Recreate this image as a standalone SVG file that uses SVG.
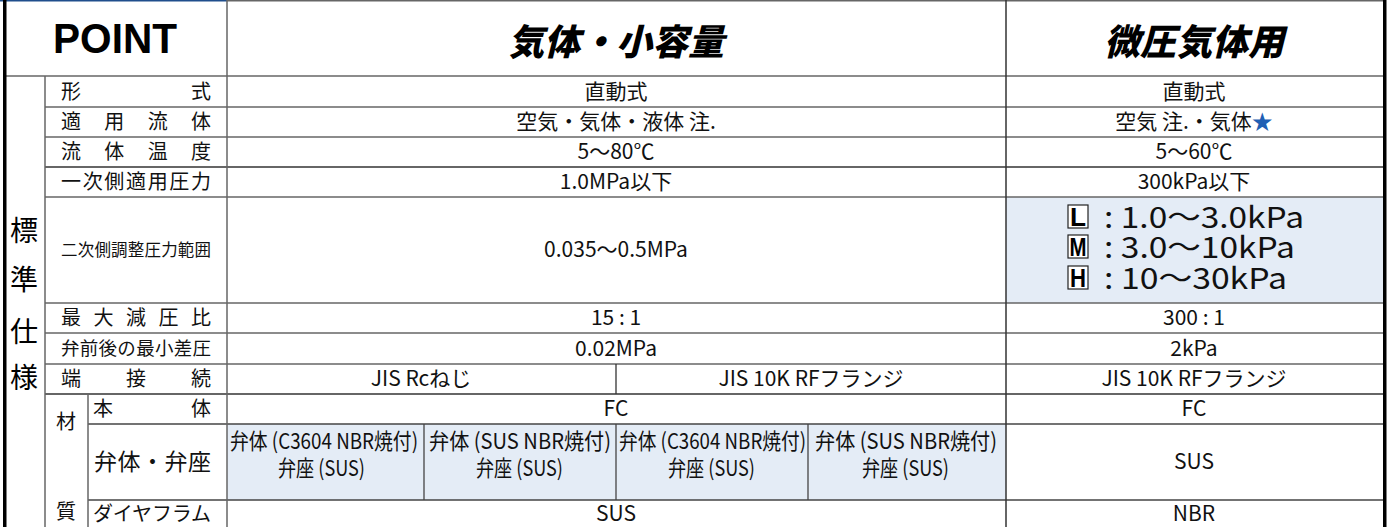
<svg xmlns="http://www.w3.org/2000/svg" width="1393" height="527" viewBox="0 0 1393 527">
<style>
.t{font-family:"Noto Sans CJK JP","Noto Sans",sans-serif;font-size:21px;fill:#111;}
.c{text-anchor:middle;}
.lab{font-family:"Noto Sans CJK JP",sans-serif;font-size:20px;fill:#111;}
.hd{font-family:"Noto Sans CJK JP",sans-serif;font-size:36px;font-weight:900;font-style:italic;fill:#000;text-anchor:middle;}
.big{font-family:"Noto Sans CJK JP",sans-serif;font-size:28px;fill:#000;text-anchor:middle;}
.rng{font-family:"Noto Sans CJK JP","Noto Sans",sans-serif;font-size:29px;fill:#111;}
.box{fill:#fff;stroke:#222;stroke-width:1.2;}
.bl{font-family:"Liberation Sans",Arial,sans-serif;font-size:26px;font-weight:700;fill:#000;}
.cond{font-family:"Noto Sans CJK JP",sans-serif;font-size:22px;fill:#111;}
.g{stroke:#666;stroke-width:1.5;fill:none;}
.hl{fill:#e4ecf6;}
</style>
<g id="backgrounds">
<rect class="hl" x="1006" y="197" width="377" height="106"/>
<rect class="hl" x="227" y="424" width="779" height="76"/>
</g>
<g id="connectors">
<line x1="227" y1="0.7" x2="1383" y2="0.7" class="g"/>
<line x1="0" y1="0.8" x2="227" y2="0.8" stroke="#1f4e8c" stroke-width="1.6"/>
<line x1="3" y1="76" x2="1383" y2="76" class="g"/>
<line x1="45" y1="107" x2="1383" y2="107" class="g"/>
<line x1="45" y1="137" x2="1383" y2="137" class="g"/>
<line x1="45" y1="167" x2="1383" y2="167" stroke="#333" stroke-width="1.5"/>
<line x1="45" y1="197" x2="1383" y2="197" class="g"/>
<line x1="45" y1="303" x2="1383" y2="303" class="g"/>
<line x1="45" y1="333" x2="1383" y2="333" class="g"/>
<line x1="45" y1="364" x2="1383" y2="364" class="g"/>
<line x1="45" y1="394" x2="1383" y2="394" stroke="#333" stroke-width="1.5"/>
<line x1="88" y1="424" x2="1383" y2="424" stroke="#444" stroke-width="1.5"/>
<line x1="88" y1="500" x2="1383" y2="500" stroke="#444" stroke-width="1.5"/>
<line x1="45" y1="76" x2="45" y2="527" class="g"/>
<line x1="88" y1="394" x2="88" y2="527" class="g"/>
<line x1="227" y1="0" x2="227" y2="527" class="g"/>
<line x1="1006" y1="0" x2="1006" y2="527" stroke="#333" stroke-width="1.5"/>
<line x1="616" y1="364" x2="616" y2="394" stroke="#333" stroke-width="1.3"/>
<line x1="424" y1="424" x2="424" y2="500" stroke="#444" stroke-width="1.3"/>
<line x1="616" y1="424" x2="616" y2="500" stroke="#444" stroke-width="1.3"/>
<line x1="808" y1="424" x2="808" y2="500" stroke="#444" stroke-width="1.3"/>
<rect x="3" y="0" width="3.5" height="527" fill="#000"/>
<rect x="1383" y="0" width="3.5" height="527" fill="#000"/>
</g>
<g id="header">
<text x="115" y="53" font-family="Liberation Sans,Arial,sans-serif" font-size="42" font-weight="700" text-anchor="middle" textLength="124" lengthAdjust="spacingAndGlyphs">POINT</text>
<text class="hd" x="616" y="55">気体・小容量</text>
<text class="hd" x="1194" y="55">微圧気体用</text>
</g>
<g id="side-label">
<text class="big" x="24" y="241">標</text>
<text class="big" x="24" y="290">準</text>
<text class="big" x="24" y="342">仕</text>
<text class="big" x="24" y="388">様</text>
<text class="lab" x="66" y="429" text-anchor="middle">材</text>
<text class="lab" x="66" y="519" text-anchor="middle">質</text>
</g>
<g id="row-keishiki">
<text class="lab" x="61" y="99" textLength="150" lengthAdjust="spacing">形式</text>
<text class="t c" x="616" y="99">直動式</text>
<text class="t c" x="1194" y="99">直動式</text>
</g>
<g id="row-fluid">
<text class="lab" x="61" y="129" textLength="150" lengthAdjust="spacing">適用流体</text>
<text class="t c" x="616" y="129">空気・気体・液体 注.</text>
<text class="t c" x="1194" y="129">空気 注.・気体<tspan fill="#1f5fb4">★</tspan></text>
</g>
<g id="row-temp">
<text class="lab" x="61" y="159" textLength="150" lengthAdjust="spacing">流体温度</text>
<text class="t c" x="616" y="159">5〜80℃</text>
<text class="t c" x="1194" y="159">5〜60℃</text>
</g>
<g id="row-primary">
<text class="lab" x="61" y="189" textLength="150" lengthAdjust="spacing">一次側適用圧力</text>
<text class="t c" x="616" y="189">1.0MPa以下</text>
<text class="t c" x="1194" y="189">300kPa以下</text>
</g>
<g id="row-secondary">
<text class="lab" x="61" y="256" textLength="150" lengthAdjust="spacing" style="font-size:16.5px">二次側調整圧力範囲</text>
<text class="t c" x="616" y="257">0.035〜0.5MPa</text>
<rect class="box" x="1068" y="205" width="20" height="23"/>
<text class="bl" x="1070" y="226" textLength="16" lengthAdjust="spacingAndGlyphs">L</text>
<text class="rng" x="1104" y="228" textLength="200" lengthAdjust="spacingAndGlyphs">: 1.0〜3.0kPa</text>
<rect class="box" x="1068" y="235" width="20" height="23"/>
<text class="bl" x="1069.5" y="256" textLength="17" lengthAdjust="spacingAndGlyphs">M</text>
<text class="rng" x="1104" y="258" textLength="191" lengthAdjust="spacingAndGlyphs">: 3.0〜10kPa</text>
<rect class="box" x="1068" y="266" width="20" height="23"/>
<text class="bl" x="1070" y="287" textLength="16" lengthAdjust="spacingAndGlyphs">H</text>
<text class="rng" x="1104" y="289" textLength="183" lengthAdjust="spacingAndGlyphs">: 10〜30kPa</text>
</g>
<g id="row-ratio">
<text class="lab" x="61" y="325" textLength="150" lengthAdjust="spacing">最大減圧比</text>
<text class="t c" x="616" y="325">15 : 1</text>
<text class="t c" x="1194" y="325">300 : 1</text>
</g>
<g id="row-diff">
<text class="lab" x="61" y="355" style="font-size:18.5px" textLength="150" lengthAdjust="spacing">弁前後の最小差圧</text>
<text class="t c" x="616" y="356">0.02MPa</text>
<text class="t c" x="1194" y="356">2kPa</text>
</g>
<g id="row-conn">
<text class="lab" x="61" y="386" textLength="150" lengthAdjust="spacing">端接続</text>
<text class="t c" x="421" y="386">JIS Rcねじ</text>
<text class="t c" x="811" y="386">JIS 10K RFフランジ</text>
<text class="t c" x="1194" y="386">JIS 10K RFフランジ</text>
</g>
<g id="row-body">
<text class="lab" x="93" y="416" textLength="118" lengthAdjust="spacing">本体</text>
<text class="t c" x="616" y="416">FC</text>
<text class="t c" x="1194" y="416">FC</text>
</g>
<g id="row-valve">
<text class="lab" x="94" y="470" style="font-size:23px" textLength="117" lengthAdjust="spacing">弁体・弁座</text>
<text class="cond" x="230" y="449" textLength="188" lengthAdjust="spacingAndGlyphs">弁体 (C3604 NBR焼付)</text>
<text class="cond" x="278" y="476" textLength="87" lengthAdjust="spacingAndGlyphs">弁座 (SUS)</text>
<text class="cond" x="429" y="449" textLength="182" lengthAdjust="spacingAndGlyphs">弁体 (SUS NBR焼付)</text>
<text class="cond" x="476" y="476" textLength="87" lengthAdjust="spacingAndGlyphs">弁座 (SUS)</text>
<text class="cond" x="619" y="449" textLength="187" lengthAdjust="spacingAndGlyphs">弁体 (C3604 NBR焼付)</text>
<text class="cond" x="668" y="476" textLength="87" lengthAdjust="spacingAndGlyphs">弁座 (SUS)</text>
<text class="cond" x="815" y="449" textLength="182" lengthAdjust="spacingAndGlyphs">弁体 (SUS NBR焼付)</text>
<text class="cond" x="862" y="476" textLength="87" lengthAdjust="spacingAndGlyphs">弁座 (SUS)</text>
<text class="t c" x="1194" y="469">SUS</text>
</g>
<g id="row-diaphragm">
<text class="lab" x="93" y="521" textLength="118" lengthAdjust="spacing">ダイヤフラム</text>
<text class="t c" x="616" y="521">SUS</text>
<text class="t c" x="1194" y="521">NBR</text>
</g>
</svg>
